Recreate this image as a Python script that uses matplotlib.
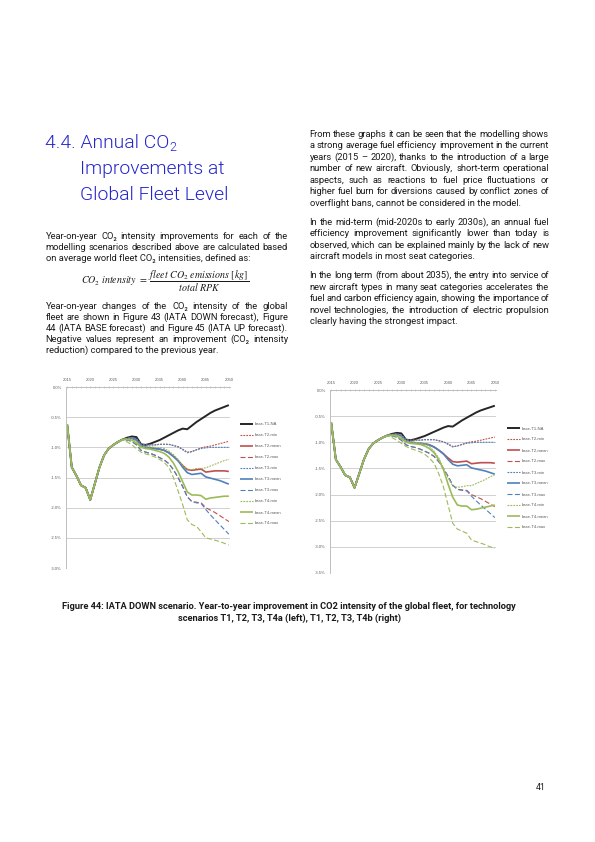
import matplotlib
matplotlib.use("Agg")
import matplotlib.pyplot as plt
from matplotlib.ticker import FixedLocator, MultipleLocator

W, H = 595, 842

# ---------------- data ----------------
years = list(range(2015, 2051))

t1_na = [-0.62, -1.33, -1.47, -1.63, -1.67, -1.87, -1.60, -1.33, -1.13, -1.02, -0.96, -0.91, -0.87,
         -0.84, -0.82, -0.83, -0.95, -0.96, -0.94, -0.91, -0.88, -0.84, -0.80, -0.76, -0.72, -0.69,
         -0.70, -0.64, -0.58, -0.53, -0.48, -0.43, -0.39, -0.36, -0.33, -0.30]
t2_min = [-0.62, -1.33, -1.47, -1.63, -1.67, -1.87, -1.60, -1.33, -1.13, -1.02, -0.96, -0.91, -0.87,
          -0.85, -0.84, -0.86, -0.95, -0.96, -0.96, -0.96, -0.95, -0.95, -0.95, -0.97, -0.99, -1.03,
          -1.08, -1.07, -1.04, -1.01, -0.99, -0.98, -0.96, -0.94, -0.92, -0.90]
t2_mean = [-0.62, -1.33, -1.47, -1.63, -1.67, -1.87, -1.60, -1.33, -1.13, -1.02, -0.96, -0.91, -0.87,
           -0.86, -0.85, -0.88, -0.97, -1.00, -1.01, -1.02, -1.03, -1.05, -1.09, -1.15, -1.22, -1.30,
           -1.37, -1.38, -1.37, -1.36, -1.41, -1.40, -1.39, -1.39, -1.39, -1.40]
t2_max = [-0.62, -1.33, -1.47, -1.63, -1.67, -1.87, -1.60, -1.33, -1.13, -1.02, -0.96, -0.91, -0.87,
          -0.88, -0.90, -0.96, -1.05, -1.08, -1.10, -1.13, -1.17, -1.21, -1.27, -1.37, -1.50, -1.65,
          -1.82, -1.90, -1.91, -1.92, -2.00, -2.04, -2.08, -2.13, -2.18, -2.23]
t3_min = [-0.62, -1.33, -1.47, -1.63, -1.67, -1.87, -1.60, -1.33, -1.13, -1.02, -0.96, -0.91, -0.87,
          -0.85, -0.84, -0.86, -0.95, -0.96, -0.96, -0.96, -0.95, -0.95, -0.95, -0.97, -0.99, -1.04,
          -1.09, -1.07, -1.04, -1.02, -1.01, -1.00, -1.00, -1.00, -1.00, -1.00]
t3_mean = [-0.62, -1.33, -1.47, -1.63, -1.67, -1.87, -1.60, -1.33, -1.13, -1.02, -0.96, -0.91, -0.87,
           -0.86, -0.85, -0.88, -0.97, -1.00, -1.01, -1.02, -1.03, -1.05, -1.09, -1.15, -1.22, -1.33,
           -1.42, -1.45, -1.44, -1.43, -1.49, -1.51, -1.53, -1.55, -1.58, -1.61]
t3_max = [-0.62, -1.33, -1.47, -1.63, -1.67, -1.87, -1.60, -1.33, -1.13, -1.02, -0.96, -0.91, -0.87,
          -0.88, -0.90, -0.96, -1.05, -1.08, -1.10, -1.13, -1.17, -1.21, -1.27, -1.37, -1.50, -1.65,
          -1.82, -1.90, -1.92, -1.93, -2.03, -2.12, -2.20, -2.28, -2.36, -2.44]
# left chart: technology scenario T4a
t4a_min = [-0.62, -1.33, -1.47, -1.63, -1.67, -1.87, -1.60, -1.33, -1.13, -1.02, -0.96, -0.91, -0.87,
           -0.86, -0.86, -0.90, -0.98, -0.99, -0.99, -1.00, -1.00, -1.02, -1.06, -1.12, -1.20, -1.30,
           -1.36, -1.37, -1.35, -1.35, -1.34, -1.31, -1.28, -1.25, -1.22, -1.20]
t4a_mean = [-0.62, -1.33, -1.47, -1.63, -1.67, -1.87, -1.60, -1.33, -1.13, -1.02, -0.96, -0.91, -0.87,
            -0.87, -0.88, -0.93, -1.00, -1.02, -1.03, -1.05, -1.07, -1.10, -1.16, -1.26, -1.40, -1.57,
            -1.74, -1.79, -1.79, -1.80, -1.86, -1.84, -1.83, -1.82, -1.81, -1.81]
t4a_max = [-0.62, -1.33, -1.47, -1.63, -1.67, -1.87, -1.60, -1.33, -1.13, -1.02, -0.96, -0.91, -0.88,
           -0.91, -0.96, -1.02, -1.08, -1.11, -1.13, -1.16, -1.20, -1.25, -1.33, -1.50, -1.72, -1.95,
           -2.20, -2.28, -2.31, -2.40, -2.50, -2.52, -2.54, -2.56, -2.59, -2.62]
# right chart: technology scenario T4b
t4b_min = [-0.62, -1.33, -1.47, -1.63, -1.67, -1.87, -1.60, -1.33, -1.13, -1.02, -0.96, -0.91, -0.87,
           -0.86, -0.86, -0.90, -0.98, -0.99, -1.00, -1.01, -1.03, -1.08, -1.17, -1.30, -1.50, -1.68,
           -1.84, -1.86, -1.85, -1.83, -1.83, -1.79, -1.75, -1.71, -1.66, -1.62]
t4b_mean = [-0.62, -1.33, -1.47, -1.63, -1.67, -1.87, -1.60, -1.33, -1.13, -1.02, -0.96, -0.91, -0.87,
            -0.87, -0.88, -0.93, -1.00, -1.02, -1.03, -1.04, -1.07, -1.12, -1.20, -1.33, -1.52, -1.80,
            -2.05, -2.20, -2.22, -2.22, -2.29, -2.28, -2.26, -2.24, -2.22, -2.20]
t4b_max = [-0.62, -1.33, -1.47, -1.63, -1.67, -1.87, -1.60, -1.33, -1.13, -1.02, -0.96, -0.91, -0.88,
           -0.91, -0.96, -1.02, -1.08, -1.12, -1.15, -1.18, -1.23, -1.30, -1.40, -1.60, -1.85, -2.20,
           -2.55, -2.66, -2.70, -2.74, -2.87, -2.90, -2.93, -2.96, -3.00, -3.03]

series_labels = ["base-T1-NA", "base-T2-min", "base-T2-mean", "base-T2-max",
                 "base-T3-min", "base-T3-mean", "base-T3-max",
                 "base-T4-min", "base-T4-mean", "base-T4-max"]
year_ticks = [2015, 2020, 2025, 2030, 2035, 2040, 2045, 2050]
left_yticks = [0.0, -0.5, -1.0, -1.5, -2.0, -2.5, -3.0]
left_ylabels = ["0.0%", "-0.5%", "-1.0%", "-1.5%", "-2.0%", "-2.5%", "-3.0%"]
right_yticks = [0.0, -0.5, -1.0, -1.5, -2.0, -2.5, -3.0, -3.5]
right_ylabels = ["0.0%", "-0.5%", "-1.0%", "-1.5%", "-2.0%", "-2.5%", "-3.0%", "-3.5%"]

# ---------------- styles ----------------
BLACK, RED, BLUE, GREEN = "#262626", "#c0504d", "#4f81bd", "#9bbb59"
DOT = (0, (1.6, 1.0))
DASH = (0, (4.5, 2.2))
styles = [
    dict(color=BLACK, ls="-", lw=1.4),
    dict(color=RED, ls=DOT, lw=0.8),
    dict(color=RED, ls="-", lw=1.2),
    dict(color=RED, ls=DASH, lw=0.8),
    dict(color=BLUE, ls=DOT, lw=0.8),
    dict(color=BLUE, ls="-", lw=1.2),
    dict(color=BLUE, ls=DASH, lw=0.8),
    dict(color=GREEN, ls=DOT, lw=0.8),
    dict(color=GREEN, ls="-", lw=1.2),
    dict(color=GREEN, ls=DASH, lw=0.8),
]

fig = plt.figure(figsize=(W / 100, H / 100), dpi=100)
fig.patch.set_facecolor("white")


def fx(x):
    return x / W


def fy(y):
    return 1 - y / H


def make_chart(rect, data, yticks, ylabels, ymin, legend_xy):
    x0, y0, x1, y1 = rect
    ax = fig.add_axes([fx(x0), fy(y1), (x1 - x0) / W, (y1 - y0) / H])
    handles = []
    for vals, st, lab in zip(data, styles, series_labels):
        h, = ax.plot(years, vals, label=lab, solid_capstyle="butt", **st)
        handles.append(h)
    ax.set_xlim(2014.75, 2050.25)
    ax.set_ylim(ymin, 0)
    ax.yaxis.set_major_locator(FixedLocator(yticks))
    ax.set_yticklabels(ylabels)
    ax.xaxis.set_major_locator(FixedLocator(year_ticks))
    ax.xaxis.set_minor_locator(MultipleLocator(1))
    ax.xaxis.tick_top()
    ax.set_xticklabels([str(y) for y in year_ticks])
    ax.grid(axis="y", color="#d0d0d0", lw=0.7)
    ax.set_axisbelow(True)
    for s in ["right", "bottom"]:
        ax.spines[s].set_visible(False)
    for s in ["left", "top"]:
        ax.spines[s].set_color("#bfbfbf")
        ax.spines[s].set_linewidth(0.7)
    ax.tick_params(axis="x", which="both", direction="inout", length=2.0, width=0.5,
                   color="#bfbfbf", labelsize=3.0, labelcolor="#595959", pad=2.5)
    ax.tick_params(axis="y", length=0, labelsize=3.0, labelcolor="#595959", pad=3)
    for lbl in ax.get_xticklabels() + ax.get_yticklabels():
        lbl.set_fontfamily("Liberation Sans")
    leg = ax.legend(handles, series_labels, loc="upper left",
                    bbox_to_anchor=(fx(legend_xy[0]), fy(legend_xy[1])),
                    bbox_transform=fig.transFigure, frameon=False,
                    prop=dict(family="Liberation Sans", size=3.0),
                    handlelength=3.2, handletextpad=0.3, labelspacing=1.68,
                    borderpad=0, borderaxespad=0)
    for t in leg.get_texts():
        t.set_color("#595959")
    return ax


make_chart((66, 387, 230, 568),
           [t1_na, t2_min, t2_mean, t2_max, t3_min, t3_mean, t3_max, t4a_min, t4a_mean, t4a_max],
           left_yticks, left_ylabels, -3.0, (240, 422.5))
make_chart((330, 390, 496, 573),
           [t1_na, t2_min, t2_mean, t2_max, t3_min, t3_mean, t3_max, t4b_min, t4b_mean, t4b_max],
           right_yticks, right_ylabels, -3.5, (507, 426.5))

# ---------------- page text ----------------
renderer = fig.canvas.get_renderer()
BODY = dict(family=["Roboto", "DejaVu Sans"], size=6.75, color="#1a1a1a")


def width_px(s, **kw):
    t = fig.text(0, 0, s, **kw)
    w = t.get_window_extent(renderer).width
    t.remove()
    return w


def paragraph(lines, x0, x1, y_first, step, style, justify_last=False):
    space = width_px("a a", **style) - width_px("aa", **style)
    for i, line in enumerate(lines):
        yb = fy(y_first + i * step + 2.8)
        words = line.split(" ")
        last = (i == len(lines) - 1) and not justify_last
        if last or len(words) == 1:
            fig.text(fx(x0), yb, line, va="baseline", ha="left", **style)
            continue
        ws = [width_px(w, **style) for w in words]
        gap = (x1 - x0 - sum(ws)) / (len(words) - 1)
        gap = max(gap, space * 0.6)
        x = x0
        for w, wd in zip(words, ws):
            fig.text(fx(x), yb, w, va="baseline", ha="left", **style)
            x += wd + gap


# heading
HEAD = dict(family=["Roboto", "DejaVu Sans"], weight=300, size=13.9, color="#2525cc")
head1 = "4.4. Annual CO"
fig.text(fx(45), fy(148), head1, va="baseline", ha="left", **HEAD)
w1 = width_px(head1, **HEAD)
fig.text(fx(45 + w1 + 0.5), fy(151), "2", va="baseline", ha="left",
         **dict(HEAD, size=9.0))
fig.text(fx(80), fy(174), "Improvements at", va="baseline", ha="left", **HEAD)
fig.text(fx(80), fy(200), "Global Fleet Level", va="baseline", ha="left", **HEAD)

left_p1 = ["Year-on-year CO\u2082 intensity improvements for each of the",
           "modelling scenarios described above are calculated based",
           "on average world fleet CO\u2082 intensities, defined as:"]
left_p2 = ["Year-on-year changes of the CO\u2082 intensity of the global",
           "fleet are shown in Figure 43 (IATA DOWN forecast), Figure",
           "44 (IATA BASE forecast) and Figure 45 (IATA UP forecast).",
           "Negative values represent an improvement (CO\u2082 intensity",
           "reduction) compared to the previous year."]
right_p1 = ["From these graphs it can be seen that the modelling shows",
            "a strong average fuel efficiency improvement in the current",
            "years (2015 \u2013 2020), thanks to the introduction of a large",
            "number of new aircraft. Obviously, short-term operational",
            "aspects, such as reactions to fuel price fluctuations or",
            "higher fuel burn for diversions caused by conflict zones of",
            "overflight bans, cannot be considered in the model."]
right_p2 = ["In the mid-term (mid-2020s to early 2030s), an annual fuel",
            "efficiency improvement significantly lower than today is",
            "observed, which can be explained mainly by the lack of new",
            "aircraft models in most seat categories."]
right_p3 = ["In the long term (from about 2035), the entry into service of",
            "new aircraft types in many seat categories accelerates the",
            "fuel and carbon efficiency again, showing the importance of",
            "novel technologies, the introduction of electric propulsion",
            "clearly having the strongest impact."]

paragraph(left_p1, 45.5, 288, 236, 11.0, BODY)
paragraph(left_p2, 45.5, 288, 306.5, 11.0, BODY)
paragraph(right_p1, 309.5, 549, 134, 11.5, BODY)
paragraph(right_p2, 309.5, 549, 222, 11.5, BODY)
paragraph(right_p3, 309.5, 549, 275.5, 11.5, BODY)

# formula
plt.rcParams["mathtext.fontset"] = "stix"
fig.text(fx(165), fy(281.5),
         r"$CO_2\ intensity\ =\ \dfrac{fleet\ CO_2\ emissions\ [kg]}{total\ RPK}$",
         ha="center", va="center", size=7.2, color="#1a1a1a")

# caption
CAP = dict(family=["Roboto", "DejaVu Sans"], weight="bold", size=6.7, color="#1a1a1a")
fig.text(fx(289), fy(609), "Figure 44: IATA DOWN scenario. Year-to-year improvement in CO2 intensity "
         "of the global fleet, for technology", ha="center", va="baseline", **CAP)
fig.text(fx(289), fy(621), "scenarios T1, T2, T3, T4a (left), T1, T2, T3, T4b (right)",
         ha="center", va="baseline", **CAP)

# page number
fig.text(fx(541), fy(790), "41", ha="center", va="baseline",
         family=["Roboto", "DejaVu Sans"], size=6.3, color="#1a1a1a")

fig.savefig("out.png", dpi=100, facecolor="white")
